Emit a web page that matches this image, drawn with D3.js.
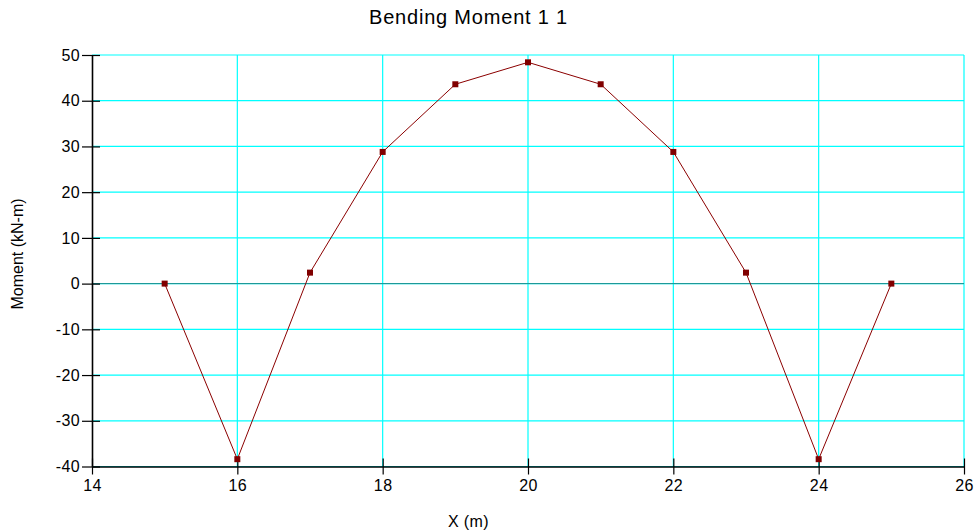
<!DOCTYPE html>
<html>
<head>
<meta charset="utf-8">
<script src="https://cdn.jsdelivr.net/npm/d3@7"></script>
<style>
  html, body { margin: 0; padding: 0; background: #fff; }
  svg { display: block; font-family: Arial, "Liberation Sans", sans-serif; }
</style>
</head>
<body>
<svg id="chart" width="976" height="532"></svg>
<script>
// Bending moment along the member
const stations = [15, 16, 17, 18, 19, 20, 21, 22, 23, 24, 25];
const moments = [0, -38.4, 2.4, 28.8, 43.6, 48.4, 43.6, 28.8, 2.4, -38.4, 0];
const xTicks = [14, 16, 18, 20, 22, 24, 26];
const yTicks = [-40, -30, -20, -10, 0, 10, 20, 30, 40, 50];

const svg = d3.select("#chart");
const plotLeft = 92, plotRight = 964, plotTop = 55, plotBottom = 466.5;
const fontStack = "Arial, 'Liberation Sans', sans-serif";
const plainNum = d => String(d);   // ASCII hyphen for negatives

const x = d3.scaleLinear().domain([14, 26]).range([plotLeft, plotRight]);
const y = d3.scaleLinear().domain([-40, 50]).range([plotBottom, plotTop]);

// Grid
const grid = svg.append("g").attr("stroke", "#00ffff").attr("stroke-width", 1.2);
grid.selectAll("line.h").data(yTicks).join("line")
  .attr("class", "h")
  .attr("x1", plotLeft).attr("x2", plotRight)
  .attr("y1", d => y(d)).attr("y2", d => y(d));
grid.selectAll("line.v").data(xTicks.filter(d => d > 14)).join("line")
  .attr("class", "v")
  .attr("y1", plotTop).attr("y2", plotBottom)
  .attr("x1", d => x(d)).attr("x2", d => x(d));

// Zero reference line
svg.append("line")
  .attr("x1", plotLeft).attr("x2", plotRight)
  .attr("y1", y(0)).attr("y2", y(0))
  .attr("stroke", "#2a6f6f").attr("stroke-width", 0.8);

// Axes
const xAxis = d3.axisBottom(x).tickValues(xTicks).tickFormat(plainNum)
  .tickSizeInner(8).tickSizeOuter(0).tickPadding(5);
const gx = svg.append("g").attr("transform", `translate(0,${plotBottom})`).call(xAxis);
gx.select(".domain").attr("stroke", "#000").attr("stroke-width", 1.6);
gx.selectAll(".tick line").attr("y1", -8).attr("stroke", "#000").attr("stroke-width", 1.2);
gx.selectAll(".tick text").attr("font-size", 16).attr("font-family", fontStack)
  .attr("letter-spacing", 0.4).attr("fill", "#000");

const yAxis = d3.axisLeft(y).tickValues(yTicks).tickFormat(plainNum)
  .tickSizeInner(10).tickSizeOuter(0).tickPadding(2);
const gy = svg.append("g").attr("transform", `translate(${plotLeft},0)`).call(yAxis);
gy.select(".domain").attr("stroke", "#000").attr("stroke-width", 1.6);
gy.selectAll(".tick line").attr("x2", 8).attr("x1", -10).attr("stroke", "#000").attr("stroke-width", 1.2);
gy.selectAll(".tick text").attr("font-size", 16).attr("font-family", fontStack)
  .attr("letter-spacing", 0.4).attr("fill", "#000");

// Moment curve
const pts = stations.map((s, i) => [s, moments[i]]);
svg.append("path")
  .datum(pts)
  .attr("fill", "none")
  .attr("stroke", "#8b0000")
  .attr("stroke-width", 1)
  .attr("d", d3.line().x(d => x(d[0])).y(d => y(d[1])));

svg.selectAll("rect.pt").data(pts).join("rect")
  .attr("class", "pt")
  .attr("x", d => x(d[0]) - 3).attr("y", d => y(d[1]) - 3)
  .attr("width", 6).attr("height", 6)
  .attr("fill", "#800000");

// Titles
svg.append("text")
  .attr("x", 468.5).attr("y", 24)
  .attr("text-anchor", "middle")
  .attr("font-size", 20)
  .attr("letter-spacing", 0.8)
  .text("Bending Moment 1 1");

svg.append("text")
  .attr("x", 468.5).attr("y", 527)
  .attr("text-anchor", "middle")
  .attr("font-size", 16)
  .attr("letter-spacing", 0.4)
  .text("X (m)");

svg.append("text")
  .attr("transform", `translate(23,254) rotate(-90)`)
  .attr("text-anchor", "middle")
  .attr("font-size", 16)
  .text("Moment (kN-m)");
</script>
</body>
</html>
